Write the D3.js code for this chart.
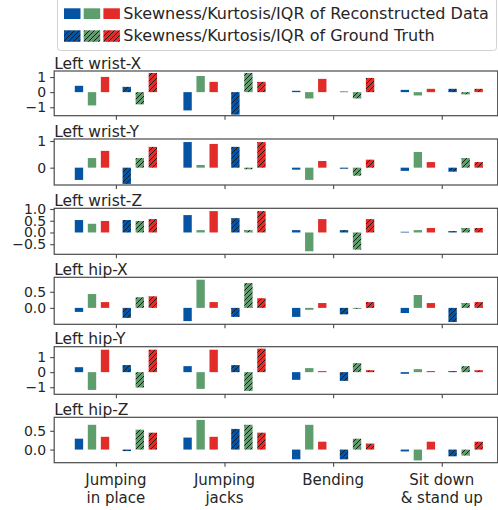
<!DOCTYPE html>
<html>
<head>
<meta charset="utf-8">
<script src="https://cdn.jsdelivr.net/npm/d3@7"></script>
<style>
  html, body { margin: 0; padding: 0; background: #fff; }
  svg { display: block; font-family: "DejaVu Sans", sans-serif; }
</style>
</head>
<body>
<svg id="chart" width="498" height="510"></svg>
<script>
// ---------------- data ----------------
const categories = [["Jumping", "in place"], ["Jumping", "jacks"], ["Bending"], ["Sit down", "& stand up"]];
const joints = ["Left wrist-X", "Left wrist-Y", "Left wrist-Z", "Left hip-X", "Left hip-Y", "Left hip-Z"];
const legendLabels = ["Skewness/Kurtosis/IQR of Reconstructed Data", "Skewness/Kurtosis/IQR of Ground Truth"];

// one row per joint, one value per category
const skewRecon = [
  [0.42, -1.21, 0.09, 0.15],
  [-0.46, 0.96, -0.075, -0.12],
  [0.53, 0.74, 0.10, 0.03],
  [-0.125, -0.41, -0.28, -0.16],
  [0.33, 0.40, -0.51, -0.11],
  [0.29, 0.32, -0.26, -0.05]
];
const kurtRecon = [
  [-0.88, 1.07, -0.42, -0.22],
  [0.36, 0.10, -0.46, 0.59],
  [0.37, 0.10, -0.80, 0.10],
  [0.43, 0.875, -0.06, 0.40],
  [-1.18, -1.11, 0.27, 0.20],
  [0.66, 0.79, 0.66, -0.29]
];
const iqrRecon = [
  [1.01, 0.68, 0.88, 0.22],
  [0.63, 0.89, 0.25, 0.21],
  [0.49, 0.91, 0.57, 0.19],
  [0.18, 0.18, 0.15, 0.15],
  [1.49, 1.49, 0.07, 0.07],
  [0.34, 0.34, 0.21, 0.21]
];
const skewGT = [
  [0.35, -1.49, 0.04, 0.22],
  [-0.61, 0.78, -0.04, -0.15],
  [0.53, 0.61, 0.10, 0.06],
  [-0.31, -0.28, -0.20, -0.44],
  [0.47, 0.47, -0.58, 0.07],
  [-0.04, 0.55, -0.26, -0.18]
];
const kurtGT = [
  [-0.81, 1.27, -0.42, -0.15],
  [0.36, -0.06, -0.30, 0.36],
  [0.49, 0.10, -0.73, 0.19],
  [0.33, 0.77, -0.03, 0.15],
  [-1.02, -1.24, 0.60, 0.40],
  [0.53, 0.66, 0.29, -0.16]
];
const iqrGT = [
  [1.27, 0.68, 0.94, 0.22],
  [0.78, 0.96, 0.30, 0.21],
  [0.57, 0.91, 0.57, 0.19],
  [0.36, 0.30, 0.18, 0.18],
  [1.49, 1.56, 0.13, 0.13],
  [0.45, 0.45, 0.16, 0.21]
];

// y-axis ranges and ticks per joint
const yDomains = [[-1.56, 1.40], [-0.65, 1.075], [-0.93, 1.03], [-0.51, 0.95], [-1.47, 1.69], [-0.35, 0.86]];
const yTicks = [[-1, 0, 1], [0, 1], [-0.5, 0, 0.5, 1.0], [0, 0.5], [-1, 0, 1], [0, 0.5]];
const yTickDecimals = [0, 0, 1, 1, 0, 1];

// ---------------- style ----------------
const colors = ["#0553a3", "#5e9e6d", "#e22c29"];
const textColor = "#262626";
const spineColor = "#4a4a4a";
const axLeft = 54.2, axRight = 497.7;
const panelTops = [71, 139, 208.3, 277.3, 346.7, 417.3];
const panelBottoms = [115.7, 185, 254.3, 324.3, 394.3, 462.7];

const svg = d3.select("#chart");
const defs = svg.append("defs");

// hatch patterns
colors.forEach((c, i) => {
  const p = defs.append("pattern")
    .attr("id", "hatch" + i)
    .attr("patternUnits", "userSpaceOnUse")
    .attr("width", 5).attr("height", 5);
  p.append("rect").attr("width", 5).attr("height", 5).attr("fill", c);
  p.append("path")
    .attr("d", "M-1,1 l2,-2 M0,5 l5,-5 M4,6 l2,-2")
    .attr("stroke", "#1a1a1a").attr("stroke-width", 1);
});

const x = d3.scaleLinear().domain([-0.568, 3.515]).range([axLeft, axRight]);
const offsets = [-0.34, -0.22, -0.10, 0.10, 0.22, 0.34];
const barW = 0.077;

joints.forEach((name, pi) => {
  const top = panelTops[pi], bottom = panelBottoms[pi];
  const y = d3.scaleLinear().domain(yDomains[pi]).range([bottom, top]);
  const g = svg.append("g");

  defs.append("clipPath").attr("id", "clip" + pi)
    .append("rect").attr("x", axLeft).attr("y", top).attr("width", axRight - axLeft).attr("height", bottom - top);

  const series = [
    { vals: skewRecon[pi], color: colors[0], hatch: false },
    { vals: kurtRecon[pi], color: colors[1], hatch: false },
    { vals: iqrRecon[pi], color: colors[2], hatch: false },
    { vals: skewGT[pi], color: "url(#hatch0)", hatch: true },
    { vals: kurtGT[pi], color: "url(#hatch1)", hatch: true },
    { vals: iqrGT[pi], color: "url(#hatch2)", hatch: true }
  ];

  const bars = g.append("g").attr("clip-path", "url(#clip" + pi + ")");
  series.forEach((s, si) => {
    bars.selectAll(null).data(s.vals).enter().append("rect")
      .attr("x", (d, i) => x(i + offsets[si] - barW / 2))
      .attr("width", (d, i) => x(i + offsets[si] + barW / 2) - x(i + offsets[si] - barW / 2))
      .attr("y", d => y(Math.max(0, d)))
      .attr("height", d => Math.abs(y(d) - y(0)))
      .attr("fill", s.color);
  });

  // y axis
  const fmt = v => {
    const s = v.toFixed(yTickDecimals[pi]);
    return s.replace("-", "\u2212");
  };
  const ya = g.append("g").attr("transform", `translate(${axLeft},0)`)
    .call(d3.axisLeft(y).tickValues(yTicks[pi]).tickSize(4).tickPadding(4).tickFormat(fmt));
  ya.select(".domain").remove();
  ya.selectAll(".tick line").attr("stroke", spineColor).attr("stroke-width", 1.1);
  ya.selectAll(".tick text").attr("fill", textColor).style("font-size", "14px")
    .style("font-family", "DejaVu Sans");

  // x axis ticks
  const xa = g.append("g").attr("transform", `translate(0,${bottom})`)
    .call(d3.axisBottom(x).tickValues(d3.range(categories.length)).tickSize(4).tickFormat(""));
  xa.select(".domain").remove();
  xa.selectAll(".tick line").attr("stroke", spineColor).attr("stroke-width", 1.1);

  // frame
  g.append("rect").attr("x", axLeft).attr("y", top)
    .attr("width", axRight - axLeft).attr("height", bottom - top)
    .attr("fill", "none").attr("stroke", spineColor).attr("stroke-width", 1.2);

  // title
  g.append("text").attr("x", axLeft).attr("y", top - 2.5)
    .attr("fill", textColor).style("font-size", "15.5px").text(name);

  // category labels on last panel
  if (pi === joints.length - 1) {
    categories.forEach((lines, ci) => {
      const t = g.append("text").attr("x", x(ci)).attr("y", bottom + 22.5)
        .attr("text-anchor", "middle").attr("fill", textColor).style("font-size", "15px");
      lines.forEach((ln, li) => {
        t.append("tspan").attr("x", x(ci)).attr("dy", li === 0 ? 0 : 17.5).text(ln);
      });
    });
  }
});

// ---------------- legend ----------------
const lg = svg.append("g");
lg.append("rect").attr("x", 57.5).attr("y", -3).attr("width", 439).attr("height", 53.5)
  .attr("rx", 3).attr("fill", "#fff").attr("fill-opacity", 0.8)
  .attr("stroke", "#d2d2d2").attr("stroke-width", 1);
legendLabels.forEach((lab, ri) => {
  const yy = ri === 0 ? 8.3 : 30.3;
  const hh = ri === 0 ? 10.7 : 11.5;
  colors.forEach((c, ci) => {
    lg.append("rect").attr("x", 64 + ci * 19.7).attr("y", yy).attr("width", 16.5).attr("height", hh)
      .attr("fill", ri === 0 ? c : "url(#hatch" + ci + ")");
  });
  lg.append("text").attr("x", 123.3).attr("y", ri === 0 ? 18.8 : 41.2)
    .attr("fill", textColor).style("font-size", "16px").text(lab);
});
</script>
</body>
</html>
